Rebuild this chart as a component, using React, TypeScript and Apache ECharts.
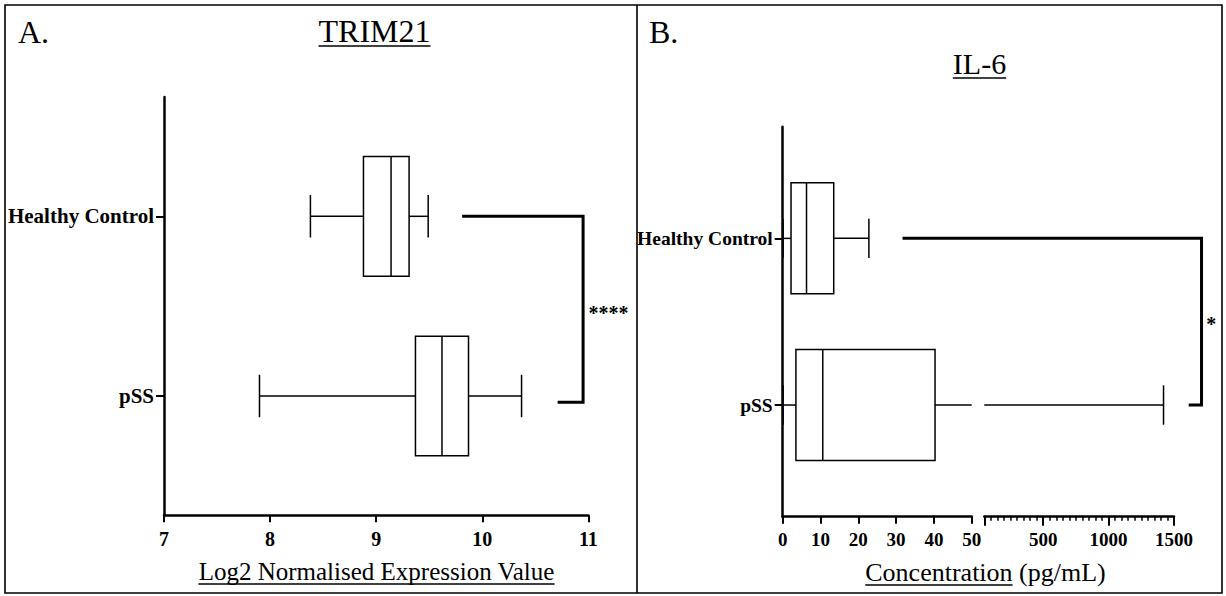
import { useEffect, useRef } from "react";
import * as echarts from "echarts";

const SERIF = "'Liberation Serif', 'Times New Roman', Times, serif";

// groups sit on a value axis: 0 = pSS, 1 = Healthy Control
const groups = ["pSS", "Healthy Control"];
const groupPos = [0, 1];

// TRIM21, log2 normalised expression: min, Q1, median, Q3, max
const trimPss = [7.9, 9.37, 9.62, 9.87, 10.37];
const trimHealthy = [8.38, 8.88, 9.14, 9.31, 9.49];

// IL-6 concentration (pg/mL): min, Q1, median, Q3, max
const il6Pss = [0.1, 3.5, 10.6, 40.3, 1420];
const il6Healthy = [0.1, 2.2, 6.3, 13.5, 22.8];

const trimTicks = [7, 8, 9, 10, 11];
const il6LowTicks = [0, 10, 20, 30, 40, 50];
const il6HighTicks = [50, 500, 1000, 1500];
const il6HighLabels = [500, 1000, 1500];
const il6HighMinor = [
  50, 100, 150, 200, 250, 300, 350, 400, 450, 500, 550, 600, 650, 700, 750,
  800, 850, 900, 950, 1000, 1050, 1100, 1150, 1200, 1250, 1300, 1350, 1400,
  1450, 1500,
];

// significance brackets and stars, in axis units
const trimBracket = [
  [9.81, 1],
  [10.95, 1],
  [10.95, -0.035],
  [10.71, -0.035],
];
const il6Bracket = [
  [31.7, 1],
  [110.8, 1],
  [110.8, 0],
  [107.4, 0],
];
const trimStar = [11.19, 0.46];
const il6Star = [113.4, 0.484];

const BOX_HALF = 0.333;
const CAP_HALF = 0.118;

const boxStyle = { stroke: "#000", lineWidth: 1.5, fill: "none" };

function makeBoxRender(lo: number, hi: number) {
  return (_params: any, api: any) => {
    const y = api.value(0);
    const [mn, q1, md, q3, mx] = [1, 2, 3, 4, 5].map((i) => api.value(i));
    const clampX = (x: number) => Math.min(Math.max(x, lo), hi);
    const children: any[] = [];
    const line = (x1: number, y1: number, x2: number, y2: number) => {
      const a = api.coord([x1, y1]);
      const b = api.coord([x2, y2]);
      children.push({
        type: "line",
        shape: { x1: a[0], y1: a[1], x2: b[0], y2: b[1] },
        style: boxStyle,
      });
    };
    if (q1 < hi && q3 > lo) {
      const a = api.coord([clampX(q1), y + BOX_HALF]);
      const b = api.coord([clampX(q3), y - BOX_HALF]);
      children.push({
        type: "rect",
        shape: { x: a[0], y: a[1], width: b[0] - a[0], height: b[1] - a[1] },
        style: boxStyle,
      });
    }
    if (md >= lo && md <= hi) line(md, y + BOX_HALF, md, y - BOX_HALF);
    if (q1 > lo && mn < hi) line(clampX(mn), y, clampX(q1), y);
    if (mn >= lo && mn <= hi) line(mn, y + CAP_HALF, mn, y - CAP_HALF);
    if (mx > lo && q3 < hi) line(clampX(q3), y, clampX(mx), y);
    if (mx >= lo && mx <= hi) line(mx, y + CAP_HALF, mx, y - CAP_HALF);
    return { type: "group", children };
  };
}

// bracket: all points of one series drawn as a single polyline
function bracketRender(params: any, api: any) {
  if (params.dataIndex !== 0) return null;
  const pts: number[][] = [];
  for (let i = 0; i < params.dataInsideLength; i++) {
    pts.push(api.coord([api.value(0, i), api.value(1, i)]));
  }
  return {
    type: "polyline",
    shape: { points: pts },
    style: { stroke: "#000", lineWidth: 3, fill: "none", lineJoin: "miter" },
  };
}

function makeStarRender(text: string) {
  return (_params: any, api: any) => {
    const p = api.coord([api.value(0), api.value(1)]);
    return {
      type: "text",
      x: p[0],
      y: p[1],
      style: {
        text,
        fill: "#000",
        fontFamily: SERIF,
        fontWeight: "bold",
        fontSize: 20,
        align: "center",
        verticalAlign: "middle",
      },
    };
  };
}

const measure = (text: string, font: string) => {
  const ctx = document.createElement("canvas").getContext("2d");
  if (!ctx) return text.length * 10;
  ctx.font = font;
  return ctx.measureText(text).width;
};

const boxData = (rows: number[][]) =>
  rows.map((r, i) => [groupPos[i], ...r]);

const axisLine = { show: true, onZero: false, lineStyle: { color: "#000", width: 2.5 } };

function yAxisFor(gridIndex: number, min: number, max: number, fontSize: number, show = true) {
  return {
    type: "value",
    gridIndex,
    show,
    min,
    max,
    axisLine,
    splitLine: { show: false },
    axisTick: {
      show: true,
      length: 8,
      customValues: groupPos,
      lineStyle: { color: "#000", width: 2 },
    },
    axisLabel: {
      customValues: groupPos,
      formatter: (v: number) => groups[groupPos.indexOf(v)] ?? "",
      color: "#000",
      fontFamily: SERIF,
      fontWeight: "bold",
      fontSize,
      margin: 10,
    },
  };
}

function titleWithUnderline(text: string, cx: number, baseline: number, size: number, underlineText = text) {
  const font = `${size}px ${SERIF}`;
  const w = measure(text, font);
  const wu = measure(underlineText, font);
  const x0 = cx - w / 2;
  return [
    {
      type: "text",
      x: cx,
      y: baseline - 0.3375 * size,
      style: {
        text,
        fill: "#000",
        fontFamily: SERIF,
        fontSize: size,
        align: "center",
        verticalAlign: "middle",
      },
    },
    {
      type: "line",
      shape: { x1: x0, y1: baseline + 4, x2: x0 + wu, y2: baseline + 4 },
      style: { stroke: "#000", lineWidth: 1.6 },
    },
  ];
}

const plainNumber = (v: number) => String(v);

export default function App() {
  const chartRef = useRef<HTMLDivElement>(null);

  useEffect(() => {
    if (!chartRef.current) return;
    const chart = echarts.init(chartRef.current, null, { renderer: "svg" });

    const option: any = {
      animation: false,
      backgroundColor: "#fff",
      textStyle: { fontFamily: SERIF },
      grid: [
        { left: 164, right: 637.6, top: 97, bottom: 80.7 },
        { left: 782.7, right: 254.3, top: 126.7, bottom: 79.3 },
        { left: 984.3, right: 52, top: 126.7, bottom: 79.3 },
      ],
      xAxis: [
        {
          type: "value",
          gridIndex: 0,
          position: "bottom",
          min: trimTicks[0],
          max: trimTicks[trimTicks.length - 1],
          interval: 1,
          axisLine,
          splitLine: { show: false },
          axisTick: { length: 7, lineStyle: { color: "#000", width: 2 } },
          axisLabel: {
            formatter: plainNumber,
            color: "#000",
            fontFamily: SERIF,
            fontWeight: "bold",
            fontSize: 20,
            margin: 14,
          },
        },
        {
          type: "value",
          gridIndex: 1,
          position: "bottom",
          min: il6LowTicks[0],
          max: il6LowTicks[il6LowTicks.length - 1],
          interval: 10,
          axisLine,
          splitLine: { show: false },
          axisTick: { length: 7, lineStyle: { color: "#000", width: 2 } },
          axisLabel: {
            formatter: plainNumber,
            color: "#000",
            fontFamily: SERIF,
            fontWeight: "bold",
            fontSize: 19,
            margin: 13,
          },
        },
        {
          type: "value",
          gridIndex: 2,
          position: "bottom",
          min: 50,
          max: 1500,
          axisLine,
          splitLine: { show: false },
          axisTick: {
            length: 9,
            customValues: il6HighTicks,
            lineStyle: { color: "#000", width: 2 },
          },
          axisLabel: {
            customValues: il6HighLabels,
            formatter: plainNumber,
            color: "#000",
            fontFamily: SERIF,
            fontWeight: "bold",
            fontSize: 19,
            margin: 13,
          },
        },
        {
          type: "value",
          gridIndex: 2,
          position: "bottom",
          offset: 0,
          min: 50,
          max: 1500,
          axisLine: { show: false, onZero: false },
          splitLine: { show: false },
          axisTick: {
            length: 4,
            customValues: il6HighMinor,
            lineStyle: { color: "#000", width: 1.5 },
          },
          axisLabel: { show: false },
        },
      ],
      yAxis: [
        yAxisFor(0, -0.664, 1.664, 21),
        yAxisFor(1, -0.67, 1.67, 19.5),
        yAxisFor(2, -0.67, 1.67, 19.5, false),
      ],
      series: [
        {
          type: "custom",
          xAxisIndex: 0,
          yAxisIndex: 0,
          silent: true,
          renderItem: makeBoxRender(7, 11),
          encode: { x: [1, 2, 3, 4, 5], y: 0 },
          data: boxData([trimPss, trimHealthy]),
        },
        {
          type: "custom",
          xAxisIndex: 1,
          yAxisIndex: 1,
          silent: true,
          renderItem: makeBoxRender(0, 50),
          encode: { x: [1, 2, 3, 4, 5], y: 0 },
          data: boxData([il6Pss, il6Healthy]),
        },
        {
          type: "custom",
          xAxisIndex: 2,
          yAxisIndex: 2,
          silent: true,
          renderItem: makeBoxRender(50, 1500),
          encode: { x: [1, 2, 3, 4, 5], y: 0 },
          data: boxData([il6Pss, il6Healthy]),
        },
        {
          type: "custom",
          xAxisIndex: 0,
          yAxisIndex: 0,
          silent: true,
          clip: false,
          renderItem: bracketRender,
          data: trimBracket,
        },
        {
          type: "custom",
          xAxisIndex: 1,
          yAxisIndex: 1,
          silent: true,
          clip: false,
          renderItem: bracketRender,
          data: il6Bracket,
        },
        {
          type: "custom",
          xAxisIndex: 0,
          yAxisIndex: 0,
          silent: true,
          renderItem: makeStarRender("****"),
          data: [trimStar],
        },
        {
          type: "custom",
          xAxisIndex: 1,
          yAxisIndex: 1,
          silent: true,
          renderItem: makeStarRender("*"),
          data: [il6Star],
        },
      ],
      graphic: [
        {
          type: "rect",
          silent: true,
          shape: { x: 5, y: 5, width: 1217, height: 588 },
          style: { fill: "none", stroke: "#000", lineWidth: 1.6 },
        },
        {
          type: "line",
          silent: true,
          shape: { x1: 637, y1: 5, x2: 637, y2: 593 },
          style: { stroke: "#000", lineWidth: 1.6 },
        },
        {
          type: "text",
          x: 18,
          y: 32,
          style: {
            text: "A.",
            fill: "#000",
            fontFamily: SERIF,
            fontSize: 32,
            verticalAlign: "middle",
          },
        },
        {
          type: "text",
          x: 649,
          y: 32,
          style: {
            text: "B.",
            fill: "#000",
            fontFamily: SERIF,
            fontSize: 32,
            verticalAlign: "middle",
          },
        },
        ...titleWithUnderline("TRIM21", 374.5, 42, 32),
        ...titleWithUnderline("IL-6", 979.5, 74, 30),
        ...titleWithUnderline("Log2 Normalised Expression Value", 376.5, 580, 25),
        ...titleWithUnderline("Concentration (pg/mL)", 985.5, 581, 26, "Concentration"),
      ],
    };

    chart.setOption(option);
    return () => {
      chart.dispose();
    };
  }, []);

  return (
    <div
      ref={chartRef}
      style={{ position: "fixed", left: 0, top: 0, width: 1226, height: 596 }}
    />
  );
}
